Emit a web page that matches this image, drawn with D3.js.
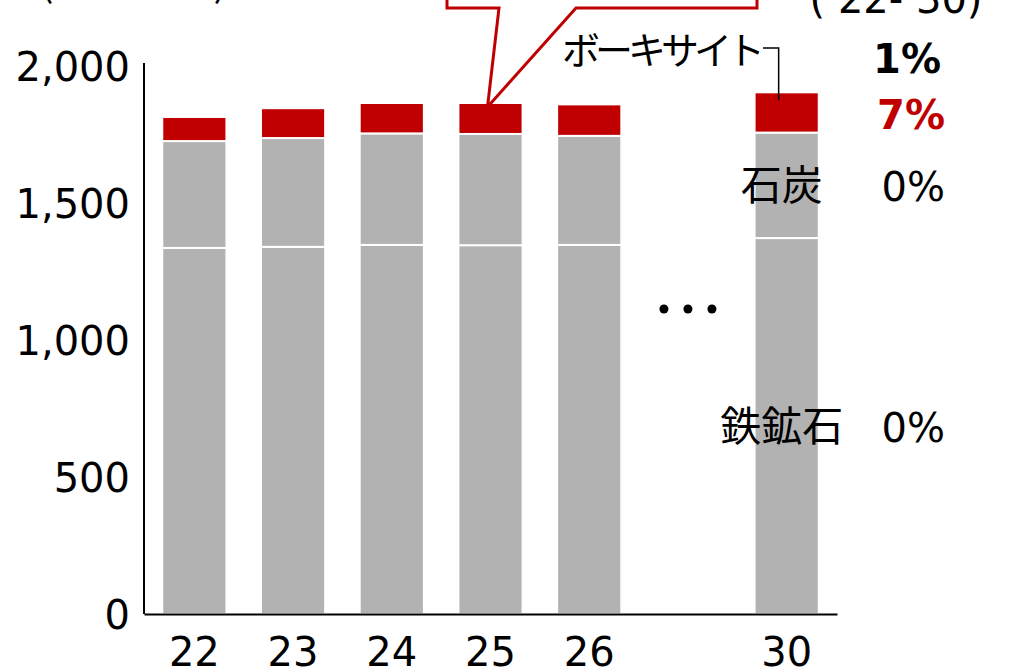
<!DOCTYPE html>
<html>
<head>
<meta charset="utf-8">
<script src="https://cdn.jsdelivr.net/npm/d3@7"></script>
<style>
  body { margin: 0; background: #fff; }
  svg { display: block; font-family: "DejaVu Sans", "Noto Sans CJK JP", sans-serif; }
  .jp { font-family: "Noto Sans CJK JP", sans-serif; }
</style>
</head>
<body>
<svg id="chart" width="1027" height="672"></svg>
<script>
// categories (fiscal years, "…" is the gap between 26 and 30)
const years = ["22", "23", "24", "25", "26", "…", "30"];
// series values, million tonnes
const ironOre = [1336, 1340, 1347, 1346, 1347, null, 1372];
const coal = [390, 397, 407, 406, 398, null, 385];
const bauxite = [88, 109, 111, 113, 115, null, 147];
// series names and growth rates ('22-'30)
const seriesNames = ["鉄鉱石", "石炭", "ボーキサイト"];
const seriesCagr = ["0%", "0%", "7%"];
const totalCagr = "1%";
const yTicks = [0, 500, 1000, 1500, 2000];

const colors = ["#b2b2b2", "#b2b2b2", "#c00000"];
const red = "#c00000";

const svg = d3.select("#chart");

const x = d3.scaleBand()
    .domain(years)
    .range([144, 837])
    .paddingInner(0.35)
    .paddingOuter(0.185);

const y = d3.scaleLinear()
    .domain([0, 2000])
    .range([614, 66]);

// build stack rows, skipping the gap category
const rows = years.map((yr, i) => ({
    year: yr, iron: ironOre[i], coal: coal[i], bauxite: bauxite[i]
})).filter(d => d.iron != null);

const keys = ["iron", "coal", "bauxite"];
const stacked = d3.stack().keys(keys)(rows);

// bars
svg.append("g")
    .selectAll("g")
    .data(stacked)
    .join("g")
    .attr("fill", (d, i) => colors[i])
    .selectAll("rect")
    .data(d => d)
    .join("rect")
    .attr("x", d => x(d.data.year))
    .attr("width", x.bandwidth())
    .attr("y", d => y(d[1]))
    .attr("height", d => y(d[0]) - y(d[1]))
    .attr("stroke", "#fff")
    .attr("stroke-width", 2);

// y axis
const yAxis = svg.append("g")
    .attr("transform", "translate(144,0)")
    .call(d3.axisLeft(y).tickValues(yTicks).tickSize(0).tickSizeOuter(0)
        .tickPadding(14).tickFormat(d3.format(",")));
yAxis.select(".domain").attr("stroke", "#000").attr("stroke-width", 2)
    .attr("d", "M0," + (y(2000) - 3) + "V" + y(0));
yAxis.selectAll("text")
    .attr("font-size", 40)
    .attr("font-family", "DejaVu Sans")
    .attr("fill", "#000")
    .attr("dy", "0.36em");

// x axis
const xAxis = svg.append("g")
    .attr("transform", "translate(0,614)")
    .call(d3.axisBottom(x).tickSize(0).tickSizeOuter(0));
xAxis.select(".domain").attr("stroke", "#000").attr("stroke-width", 2);
xAxis.selectAll("text")
    .attr("font-size", 40)
    .attr("font-family", "DejaVu Sans")
    .attr("fill", "#000")
    .attr("y", 52)
    .attr("dy", null)
    .text(d => d === "…" ? "" : d);

// the "• • •" gap marker
const gapX = x("…") + x.bandwidth() / 2;
svg.append("g")
    .selectAll("circle")
    .data([-24, 0, 24])
    .join("circle")
    .attr("cx", d => gapX + d)
    .attr("cy", 309)
    .attr("r", 4.5)
    .attr("fill", "#000");

// labels for the last bar
const last = stacked.map(s => s[s.length - 1]);
const lastX = x("30");
const lastMid = lastX + x.bandwidth() / 2;

// 鉄鉱石 and 石炭 labels sit at the middle of their segments
[0, 1].forEach(i => {
    const mid = (y(last[i][0]) + y(last[i][1])) / 2;
    svg.append("text")
        .attr("class", "jp")
        .attr("x", lastMid - 5)
        .attr("y", mid + 15)
        .attr("text-anchor", "middle")
        .attr("font-size", 41)
        .text(seriesNames[i]);
    svg.append("text")
        .attr("x", 945)
        .attr("y", mid + 16)
        .attr("text-anchor", "end")
        .attr("font-size", 40)
        .text(seriesCagr[i]);
});

// bauxite: red growth label beside the segment
const bxMid = (y(last[2][0]) + y(last[2][1])) / 2;
svg.append("text")
    .attr("x", 945)
    .attr("y", bxMid + 17)
    .attr("text-anchor", "end")
    .attr("font-size", 40)
    .attr("font-weight", "bold")
    .attr("fill", red)
    .text(seriesCagr[2]);

// bauxite name with a leader line into the bar
svg.append("text")
    .attr("class", "jp")
    .attr("x", 760)
    .attr("y", 64)
    .attr("text-anchor", "end")
    .attr("font-size", 38)
    .attr("letter-spacing", -5)
    .text(seriesNames[2]);
svg.append("path")
    .attr("d", "M763,48H" + (lastMid - 8) + "V" + (y(last[2][1]) + 8))
    .attr("fill", "none")
    .attr("stroke", "#000")
    .attr("stroke-width", 1.5);

// total growth
svg.append("text")
    .attr("x", 941)
    .attr("y", 73)
    .attr("text-anchor", "end")
    .attr("font-size", 40)
    .attr("font-weight", "bold")
    .text(totalCagr);

// column header, mostly cut off at the top
svg.append("text")
    .attr("x", 896)
    .attr("y", 13)
    .attr("text-anchor", "middle")
    .attr("font-size", 40)
    .text("(’22-’30)");

// unit label, cut off at the top
svg.append("text")
    .attr("class", "jp")
    .attr("x", 40)
    .attr("y", -4)
    .attr("font-size", 40)
    .text("(百万トン)");

// callout pointing at 25
const r25 = rows.find(d => d.year === "25");
const tipX = x("25") + x.bandwidth() / 2 - 3;
const tipY = y(r25.iron + r25.coal + r25.bauxite) + 4;
svg.append("path")
    .attr("d", "M447,-10V8H499L" + tipX + "," + tipY + "L576,8H757V-10")
    .attr("fill", "#fff")
    .attr("stroke", red)
    .attr("stroke-width", 3)
    .attr("stroke-linejoin", "miter");
</script>
</body>
</html>
